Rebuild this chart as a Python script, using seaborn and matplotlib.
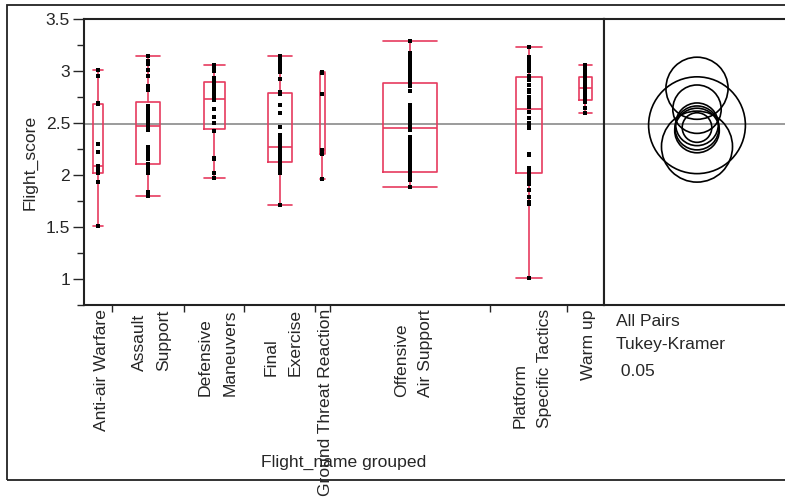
import numpy as np
import pandas as pd
import seaborn as sns
import matplotlib.pyplot as plt
from matplotlib.patches import Circle, Rectangle
from matplotlib.ticker import MultipleLocator, FixedLocator, NullFormatter

# 1. Data
groups = ["Anti-air Warfare", "Assault Support", "Defensive Maneuvers", "Final Exercise",
          "Ground Threat Reaction", "Offensive Air Support", "Platform Specific Tactics", "Warm up"]
tick_labels = ["Anti-air Warfare", "Assault\nSupport", "Defensive\nManeuvers", "Final\nExercise",
               "Ground Threat Reaction", "Offensive\nAir Support", "Platform\nSpecific Tactics", "Warm up"]

anti_air = [1.51, 1.93, 2.02, 2.02, 2.05, 2.08, 2.09, 2.22, 2.30, 2.68, 2.69, 2.95, 3.01]
assault = [1.80, 1.84, 2.02, 2.02, 2.05, 2.08, 2.08, 2.10, 2.11, 2.15, 2.18, 2.21, 2.24, 2.27,
           2.43, 2.45, 2.47, 2.48, 2.50, 2.52, 2.55, 2.57, 2.58, 2.61, 2.63, 2.66, 2.82, 2.84,
           2.86, 2.95, 3.01, 3.07, 3.10, 3.14]
defensive = [1.97, 2.02, 2.02, 2.15, 2.16, 2.42, 2.42, 2.50, 2.50, 2.56, 2.56, 2.63, 2.63, 2.72,
             2.74, 2.77, 2.77, 2.80, 2.80, 2.83, 2.87, 2.90, 2.93, 2.93, 3.00, 3.03, 3.03, 3.06]
final_ex = [1.71, 2.02, 2.04, 2.06, 2.09, 2.11, 2.12, 2.12, 2.13, 2.15, 2.17, 2.19, 2.21, 2.23,
            2.25, 2.26, 2.27, 2.30, 2.33, 2.36, 2.38, 2.46, 2.60, 2.67, 2.78, 2.80, 2.92, 2.99,
            3.02, 3.05, 3.08, 3.11, 3.14]
ground = [1.96, 2.20, 2.20, 2.24, 2.78, 2.98, 2.99]
offensive = [1.88, 1.95, 1.95, 1.96, 1.96, 1.97, 1.97, 1.98, 1.98, 1.99, 1.99, 2.00, 2.00, 2.01,
             2.01, 2.02, 2.02, 2.03, 2.03,
             2.05, 2.07, 2.09, 2.10, 2.12, 2.14, 2.16, 2.18, 2.20, 2.22, 2.24, 2.26, 2.28, 2.30,
             2.32, 2.34, 2.37, 2.43, 2.45,
             2.46, 2.47, 2.48, 2.50, 2.51, 2.52, 2.54, 2.55, 2.57, 2.58, 2.60, 2.61, 2.62, 2.64,
             2.66, 2.67, 2.81, 2.86, 2.88,
             2.89, 2.91, 2.92, 2.94, 2.95, 2.97, 2.98, 3.00, 3.02, 3.03, 3.05, 3.07, 3.09, 3.11,
             3.13, 3.15, 3.17, 3.29]
platform = [1.01, 1.72, 1.74, 1.79, 1.86, 1.91, 1.95, 1.97, 2.01, 2.03, 2.07, 2.19, 2.20, 2.45,
            2.48, 2.50, 2.55, 2.61, 2.65, 2.66, 2.69, 2.72, 2.75, 2.80, 2.82, 2.87, 2.91, 2.95,
            3.00, 3.02, 3.04, 3.07, 3.09, 3.11, 3.13, 3.23]
warm_up = [2.60, 2.64, 2.70, 2.72, 2.73, 2.75, 2.79, 2.82, 2.84, 2.86, 2.88, 2.91, 2.93, 2.95,
           2.98, 3.02, 3.06]

series = [anti_air, assault, defensive, final_ex, ground, offensive, platform, warm_up]
q_star = 3.05  # Tukey-Kramer q/sqrt(2), 8 groups, alpha 0.05

# 2. Layout: JMP makes each group's x span proportional to its count
counts = np.array([len(s) for s in series])
edges = np.concatenate([[0], np.cumsum(counts)])
centers = edges[:-1] + counts / 2
widths = 0.34 * counts

df = pd.concat([pd.DataFrame({"Flight_name grouped": g, "Flight_score": s, "pos": c})
                for g, s, c in zip(groups, series, centers)], ignore_index=True)
grand_mean = df["Flight_score"].mean()
means = df.groupby("Flight_name grouped", sort=False)["Flight_score"].mean()
resid = df["Flight_score"] - df.groupby("Flight_name grouped")["Flight_score"].transform("mean")
mse = (resid ** 2).sum() / (len(df) - len(groups))


def box_stats(v):
    v = np.sort(np.asarray(v))
    q1, med, q3 = np.percentile(v, [25, 50, 75], method="weibull")
    iqr = q3 - q1
    return dict(med=med, q1=q1, q3=q3,
                whislo=v[v >= q1 - 1.5 * iqr].min(), whishi=v[v <= q3 + 1.5 * iqr].max(), fliers=[])


sns.set_style("ticks")
plt.rcParams["font.family"] = ["Liberation Sans", "DejaVu Sans"]
fs = 12.6
plt.rcParams["font.size"] = fs

W, H = 785, 498
fig = plt.figure(figsize=(W / 100, H / 100), dpi=100)
ax = fig.add_axes([84 / W, 1 - 305 / H, 519.5 / W, 286 / H])
ax2 = fig.add_axes([603.5 / W, 1 - 305 / H, 184.5 / W, 286 / H])
px = edges[-1] / 519.5  # data units per pixel along x

red = "#e63b5f"
lp = dict(color=red, linewidth=1.2)
ax.bxp([box_stats(s) for s in series], positions=centers, widths=widths, capwidths=widths,
       showfliers=False, manage_ticks=False, boxprops=lp, whiskerprops=lp, capprops=lp,
       medianprops=lp, zorder=2)
ax.axhline(grand_mean, color="#8a8a8a", linewidth=1.2, zorder=1)
sns.scatterplot(data=df, x="pos", y="Flight_score", marker="s", color="black", s=8,
                linewidth=0, ax=ax, zorder=3)

ax.set_xlim(0, edges[-1])
ax.set_ylim(0.75, 3.5)
ax.yaxis.set_major_locator(MultipleLocator(0.5))
ax.yaxis.set_minor_locator(MultipleLocator(0.25))
ax.set_yticklabels([f"{t:g}" for t in ax.get_yticks()])
ax.tick_params(axis="y", which="major", length=8, width=1, pad=2, labelsize=fs)
ax.tick_params(axis="y", which="minor", length=5, width=1)
ax.set_ylabel("Flight_score", fontsize=fs, labelpad=6)

ax.xaxis.set_major_locator(FixedLocator(edges[1:-1]))
ax.xaxis.set_major_formatter(NullFormatter())
# labels sit a few pixels right of the group centre, as in JMP
ax.xaxis.set_minor_locator(FixedLocator(centers + 3.5 * px))
ax.set_xticklabels(tick_labels, minor=True, rotation=90, va="top", ha="center",
                   multialignment="left", linespacing=1.8, fontsize=fs)
ax.tick_params(axis="x", which="major", length=5, width=1)
ax.tick_params(axis="x", which="minor", length=0, pad=3)
ax.set_xlabel("Flight_name grouped", fontsize=fs, va="center")
ax.xaxis.set_label_coords(0.5, (305 - 462) / 286)

for a in (ax, ax2):
    for sp in a.spines.values():
        sp.set_linewidth(1.5)
        sp.set_color("#222222")
ax2.spines["right"].set_visible(False)

# 3. Comparison circles
ax2.set_ylim(0.75, 3.5)
ax2.set_xlim(-(697 - 603.5) / 104, (788 - 697) / 104)
ax2.set_xticks([])
ax2.set_yticks([])
ax2.axhline(grand_mean, color="#8a8a8a", linewidth=1.2, zorder=1)
for g, n in zip(groups, counts):
    ax2.add_patch(Circle((0, means[g]), q_star * np.sqrt(mse / n), fill=False,
                         edgecolor="black", linewidth=1.2, zorder=2))

fig.text(616 / W, 1 - 321 / H, "All Pairs", va="center", ha="left", fontsize=fs)
fig.text(616 / W, 1 - 345 / H, "Tukey-Kramer", va="center", ha="left", fontsize=fs)
fig.text(616 / W, 1 - 371 / H, " 0.05", va="center", ha="left", fontsize=fs)

fig.patches.append(Rectangle((7 / W, 1 - 480 / H), 1.2, 475 / H, transform=fig.transFigure,
                             fill=False, edgecolor="#222222", linewidth=1.3))

fig.savefig("out.png", dpi=100)
